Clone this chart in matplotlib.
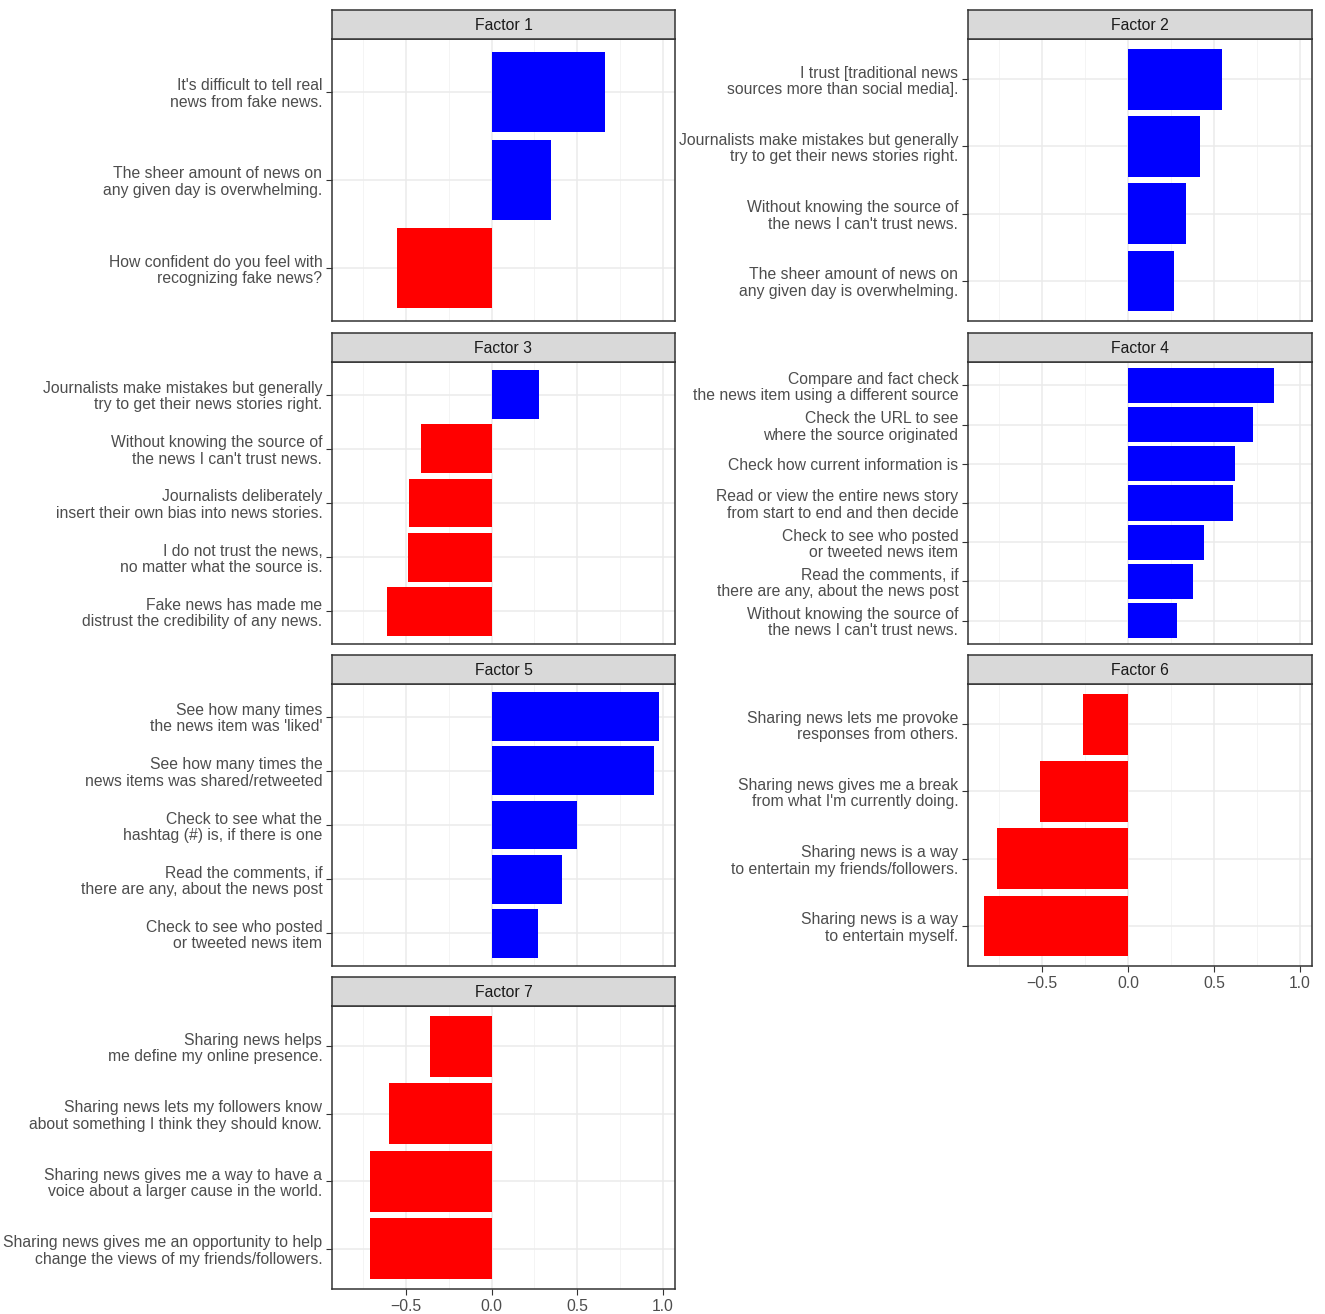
import matplotlib.pyplot as plt

plt.rcParams['font.family'] = ['Liberation Sans', 'DejaVu Sans']

# Loadings per factor, listed top to bottom as shown in each panel
f1_items = ["It's difficult to tell real\nnews from fake news.",
            "The sheer amount of news on\nany given day is overwhelming.",
            "How confident do you feel with\nrecognizing fake news?"]
f1_vals = [0.66, 0.35, -0.55]

f2_items = ["I trust [traditional news\nsources more than social media].",
            "Journalists make mistakes but generally\ntry to get their news stories right.",
            "Without knowing the source of\nthe news I can't trust news.",
            "The sheer amount of news on\nany given day is overwhelming."]
f2_vals = [0.55, 0.42, 0.34, 0.27]

f3_items = ["Journalists make mistakes but generally\ntry to get their news stories right.",
            "Without knowing the source of\nthe news I can't trust news.",
            "Journalists deliberately\ninsert their own bias into news stories.",
            "I do not trust the news,\nno matter what the source is.",
            "Fake news has made me\ndistrust the credibility of any news."]
f3_vals = [0.28, -0.41, -0.48, -0.49, -0.61]

f4_items = ["Compare and fact check\nthe news item using a different source",
            "Check the URL to see\nwhere the source originated",
            "Check how current information is",
            "Read or view the entire news story\nfrom start to end and then decide",
            "Check to see who posted\nor tweeted news item",
            "Read the comments, if\nthere are any, about the news post",
            "Without knowing the source of\nthe news I can't trust news."]
f4_vals = [0.85, 0.73, 0.62, 0.61, 0.44, 0.38, 0.285]

f5_items = ["See how many times\nthe news item was 'liked'",
            "See how many times the\nnews items was shared/retweeted",
            "Check to see what the\nhashtag (#) is, if there is one",
            "Read the comments, if\nthere are any, about the news post",
            "Check to see who posted\nor tweeted news item"]
f5_vals = [0.98, 0.95, 0.50, 0.41, 0.27]

f6_items = ["Sharing news lets me provoke\nresponses from others.",
            "Sharing news gives me a break\nfrom what I'm currently doing.",
            "Sharing news is a way\nto entertain my friends/followers.",
            "Sharing news is a way\nto entertain myself."]
f6_vals = [-0.26, -0.51, -0.76, -0.84]

f7_items = ["Sharing news helps\nme define my online presence.",
            "Sharing news lets my followers know\nabout something I think they should know.",
            "Sharing news gives me a way to have a\nvoice about a larger cause in the world.",
            "Sharing news gives me an opportunity to help\nchange the views of my friends/followers."]
f7_vals = [-0.36, -0.60, -0.71, -0.71]

factors = ["Factor 1", "Factor 2", "Factor 3", "Factor 4", "Factor 5", "Factor 6", "Factor 7"]
items = [f1_items, f2_items, f3_items, f4_items, f5_items, f6_items, f7_items]
values = [f1_vals, f2_vals, f3_vals, f4_vals, f5_vals, f6_vals, f7_vals]

W, H = 1325, 1314
fig = plt.figure(figsize=(W / 100, H / 100), dpi=100)

col_x = [(332, 675), (968, 1312)]
rows = [(10, 39, 321), (333, 362, 644), (655, 684, 966), (977, 1006, 1289)]

allv = [v for vals in values for v in vals] + [0]
lo, hi = min(allv), max(allv)
pad = (hi - lo) * 0.05
xlim = (lo - pad, hi + pad)

edge = "#333333"
txt = "#4D4D4D"
for k, (name, labs, vals) in enumerate(zip(factors, items, values)):
    r, c = divmod(k, 2)
    x0, x1 = col_x[c]
    st, top, bot = rows[r]
    ax = fig.add_axes([x0 / W, 1 - bot / H, (x1 - x0) / W, (bot - top) / H])
    sx = fig.add_axes([x0 / W, 1 - top / H, (x1 - x0) / W, (top - st) / H])

    n = len(vals)
    pos = [n - i for i in range(n)]
    colors = ["#0000FF" if v > 0 else "#FF0000" for v in vals]
    ax.barh(pos, vals, height=0.9, color=colors, zorder=3)
    ax.set_ylim(0.4, n + 0.6)
    ax.set_xlim(*xlim)
    ax.set_yticks(pos)
    ax.set_yticklabels(labs, fontsize=11.3, color=txt, linespacing=1.12)
    ax.set_xticks([-0.5, 0.0, 0.5, 1.0])
    ax.set_xticks([-0.75, -0.25, 0.25, 0.75], minor=True)
    ax.grid(True, which="major", color="#EBEBEB", linewidth=1.1, zorder=0)
    ax.grid(True, which="minor", color="#F3F3F3", linewidth=0.6, zorder=0)
    ax.tick_params(axis="both", which="major", length=4, width=0.8, color=edge, pad=3)
    ax.tick_params(axis="both", which="minor", length=0)
    last_in_col = (k == 5) or (k == 6)
    if last_in_col:
        ax.set_xticklabels(["\u22120.5", "0.0", "0.5", "1.0"], fontsize=11.3, color=txt)
    else:
        ax.tick_params(axis="x", which="major", length=0, labelbottom=False)
    for s in ax.spines.values():
        s.set_color(edge)
        s.set_linewidth(1.1)

    sx.set_facecolor("#D9D9D9")
    sx.set_xticks([])
    sx.set_yticks([])
    for s in sx.spines.values():
        s.set_color(edge)
        s.set_linewidth(1.1)
    sx.text(0.5, 0.45, name, ha="center", va="center", fontsize=11.3, color="#1A1A1A",
            transform=sx.transAxes)

fig.savefig("out.png", dpi=100)
